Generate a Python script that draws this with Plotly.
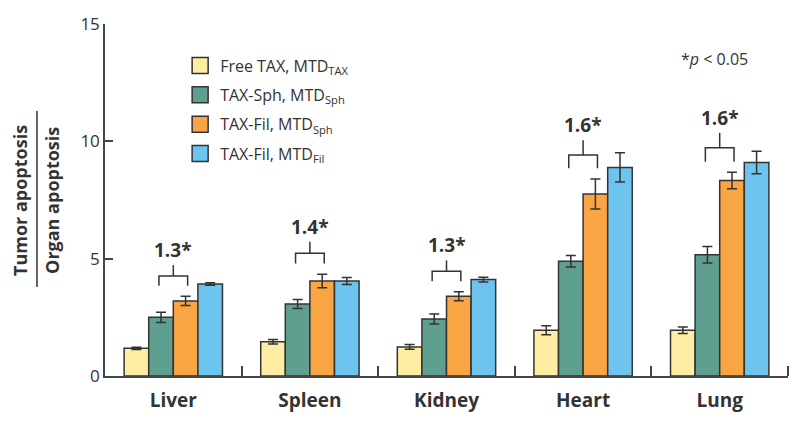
import plotly.graph_objects as go

# ---- data ----
organs = ["Liver", "Spleen", "Kidney", "Heart", "Lung"]
series_names = [
    "Free TAX, MTD<sub>TAX</sub>",
    "TAX-Sph, MTD<sub>Sph</sub>",
    "TAX-Fil, MTD<sub>Sph</sub>",
    "TAX-Fil, MTD<sub>Fil</sub>",
]
free_tax = [1.18, 1.46, 1.24, 1.95, 1.95]
free_tax_err = [0.05, 0.10, 0.10, 0.19, 0.14]
tax_sph = [2.50, 3.07, 2.43, 4.89, 5.17]
tax_sph_err = [0.22, 0.19, 0.21, 0.25, 0.35]
tax_fil_sph = [3.20, 4.05, 3.40, 7.76, 8.33]
tax_fil_sph_err = [0.20, 0.29, 0.19, 0.64, 0.35]
tax_fil_fil = [3.92, 4.05, 4.11, 8.89, 9.10]
tax_fil_fil_err = [0.05, 0.15, 0.10, 0.62, 0.48]
fold_change = [1.3, 1.4, 1.3, 1.6, 1.6]
y_ticks = [0, 5, 10, 15]

colors = ["#FFEDA3", "#5F9F8F", "#F9A544", "#6CC4EF"]
values = [free_tax, tax_sph, tax_fil_sph, tax_fil_fil]
errors = [free_tax_err, tax_sph_err, tax_fil_sph_err, tax_fil_fil_err]

FONT = "Open Sans"
DARK = "#333333"
x_pos = list(range(len(organs)))

fig = go.Figure()
for name, vals, errs, col in zip(series_names, values, errors, colors):
    fig.add_trace(go.Bar(
        x=x_pos, y=vals, name=name, showlegend=False,
        marker=dict(color=col, line=dict(color=DARK, width=1.5)),
        error_y=dict(type="data", array=errs, visible=True,
                     color=DARK, thickness=1.5, width=5),
    ))
for name, col in zip(series_names, colors):
    # legend proxy
    fig.add_trace(go.Scatter(
        x=[None], y=[None], mode="markers", name=name, legendgroup=name,
        marker=dict(symbol="square", size=16, color=col,
                    line=dict(color=DARK, width=1.5)),
    ))

# significance brackets
half = 0.105
for i, fc in enumerate(fold_change):
    base = tax_fil_sph[i] + tax_fil_sph_err[i] + 0.45
    leg = 0.3 + 0.035 * tax_fil_sph[i]
    top = base + leg
    stem = top + leg + 0.05
    fig.add_shape(type="path", xref="x", yref="y",
                  path=f"M {i - half} {base} L {i - half} {top} L {i + half} {top} L {i + half} {base}",
                  line=dict(color=DARK, width=1.5))
    fig.add_shape(type="line", xref="x", yref="y", x0=i, x1=i, y0=top, y1=stem,
                  line=dict(color=DARK, width=1.5))
    fig.add_annotation(x=i, y=stem, xref="x", yref="y", text=f"<b>{fc}*</b>",
                       showarrow=False, yanchor="bottom", yshift=0,
                       font=dict(family=FONT, size=19, color=DARK))

# p-value note
fig.add_annotation(x=0.892, y=0.9, xref="paper", yref="paper",
                   text="*<i>p</i> < 0.05", showarrow=False,
                   xanchor="center", yanchor="middle",
                   font=dict(family=FONT, size=16, color=DARK))

# y-axis title as a fraction
fig.add_annotation(x=-0.1245, y=0.5, xref="paper", yref="paper",
                   text="<b>Tumor apoptosis</b>", textangle=-90, showarrow=False,
                   xanchor="center", yanchor="middle",
                   font=dict(family=FONT, size=18, color=DARK))
fig.add_annotation(x=-0.0777, y=0.5, xref="paper", yref="paper",
                   text="<b>Organ apoptosis</b>", textangle=-90, showarrow=False,
                   xanchor="center", yanchor="middle",
                   font=dict(family=FONT, size=18, color=DARK))
fig.add_shape(type="line", xref="paper", yref="paper",
              x0=-0.0996, x1=-0.0996, y0=0.253, y1=0.753,
              line=dict(color=DARK, width=1.5))

fig.update_layout(
    width=800, height=425,
    margin=dict(l=105, r=12, t=18, b=46),
    paper_bgcolor="white", plot_bgcolor="white",
    barmode="group", bargap=0.28, bargroupgap=0,
    font=dict(family=FONT, color=DARK),
    legend=dict(x=0.11, y=0.93, xanchor="left", yanchor="top",
                font=dict(family=FONT, size=16, color=DARK),
                tracegroupgap=5.5, bgcolor="rgba(0,0,0,0)"),
    xaxis=dict(range=[-0.5, 4.5], tickmode="array", tickvals=x_pos, ticktext=organs,
               ticks="", showline=True, linecolor="#444444", linewidth=1.5,
               showgrid=False, zeroline=False, ticklabelstandoff=6,
               tickfont=dict(family=FONT, size=19, color=DARK, weight="bold"),
               minor=dict(tickmode="array", tickvals=[p + 0.5 for p in x_pos],
                          ticks="inside", ticklen=10, tickwidth=1.5, tickcolor="#444444")),
    yaxis=dict(range=[0, 15], tickmode="array", tickvals=y_ticks,
               ticks="inside", ticklen=8, tickwidth=1.5, tickcolor="#444444",
               showline=True, linecolor="#444444", linewidth=1.5,
               showgrid=False, zeroline=False,
               tickfont=dict(family=FONT, size=17, color=DARK)),
)

fig.write_html("out.html", config={"displayModeBar": False},
               post_script="document.body.style.margin='0';")
